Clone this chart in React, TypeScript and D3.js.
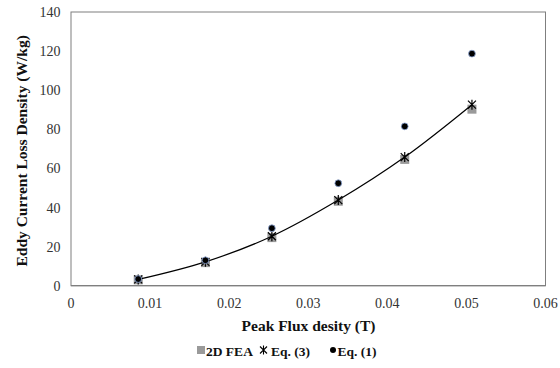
import React from "react";
import * as d3 from "d3";

const fluxB = [0.0085, 0.017, 0.0254, 0.0338, 0.0422, 0.0507];
const fea2D = [3.0, 11.8, 24.6, 43.2, 64.6, 90.3];
const eq3 = [3.2, 12.2, 25.3, 43.8, 65.8, 92.6];
const eq1 = [3.4, 13.0, 29.4, 52.4, 81.5, 118.7];
const xTicks = [0, 0.01, 0.02, 0.03, 0.04, 0.05, 0.06];
const yTicks = [0, 20, 40, 60, 80, 100, 120, 140];

const W = 560, H = 368;
const left = 71, right = 545.5, top = 12, bottom = 285.7;
const font = "'Liberation Serif', 'Times New Roman', serif";

export default function App() {
  const x = d3.scaleLinear().domain([0, 0.06]).range([left, right]);
  const y = d3.scaleLinear().domain([0, 140]).range([bottom, top]);
  const line = d3
    .line<number>()
    .x((_, i) => x(fluxB[i]))
    .y((d) => y(d))
    .curve(d3.curveCatmullRom.alpha(0.5));
  const fmt = (v: number) => (v === 0 ? "0" : String(+v.toFixed(2)));
  const star = (cx: number, cy: number, r: number) =>
    `M${cx - r},${cy - r}L${cx + r},${cy + r}M${cx - r},${cy + r}L${cx + r},${cy - r}M${cx},${cy - r - 1}L${cx},${cy + r + 1}`;
  return (
    <svg width={W} height={H} style={{ position: "absolute", left: 0, top: 0 }}>
      <rect x={0} y={0} width={W} height={H} fill="#fff" />
      <rect x={left} y={top} width={right - left} height={bottom - top} fill="none" stroke="#7f7f7f" strokeWidth={1} />
      <line x1={left} x2={right} y1={bottom} y2={bottom} stroke="#7f7f7f" strokeWidth={1.3} />
      {yTicks.map((t) => (
        <text key={t} x={60.5} y={y(t) + 5} textAnchor="end" fontFamily={font} fontSize={14} fill="#333">
          {t}
        </text>
      ))}
      {xTicks.map((t) => (
        <text key={t} x={x(t)} y={307.5} textAnchor="middle" fontFamily={font} fontSize={14} fill="#333">
          {fmt(t)}
        </text>
      ))}
      <text x={308.5} y={331} textAnchor="middle" fontFamily={font} fontSize={15.5} fontWeight="bold" fill="#111">
        Peak Flux desity (T)
      </text>
      <text
        transform={`translate(27,${(top + bottom) / 2 + 2}) rotate(-90)`}
        textAnchor="middle"
        fontFamily={font}
        fontSize={15.5}
        fontWeight="bold"
        fill="#111"
      >
        Eddy Current Loss Density (W/kg)
      </text>
      {fea2D.map((v, i) => (
        <rect key={"f" + i} x={x(fluxB[i]) - 4.5} y={y(v) - 4.5} width={9} height={9} fill="#9a9a9a" />
      ))}
      <path d={line(eq3) || ""} fill="none" stroke="#000" strokeWidth={1.2} />
      {eq3.map((v, i) => (
        <path key={"e3" + i} d={star(x(fluxB[i]), y(v), 4)} stroke="#000" strokeWidth={1.2} fill="none" />
      ))}
      {eq1.map((v, i) => (
        <circle key={"e1" + i} cx={x(fluxB[i])} cy={y(v)} r={3.4} fill="#000" stroke="#8faadc" strokeWidth={0.8} />
      ))}
      <g fontFamily={font} fontSize={13.5} fontWeight="bold" fill="#111">
        <rect x={197} y={346} width={8} height={8} fill="#9a9a9a" />
        <text x={206} y={355.5}>2D FEA</text>
        <path d={star(263.5, 350, 3.5)} stroke="#000" strokeWidth={1.1} fill="none" />
        <text x={271} y={355.5}>Eq. (3)</text>
        <circle cx={333} cy={350} r={3} fill="#000" />
        <text x={337.5} y={355.5}>Eq. (1)</text>
      </g>
    </svg>
  );
}
